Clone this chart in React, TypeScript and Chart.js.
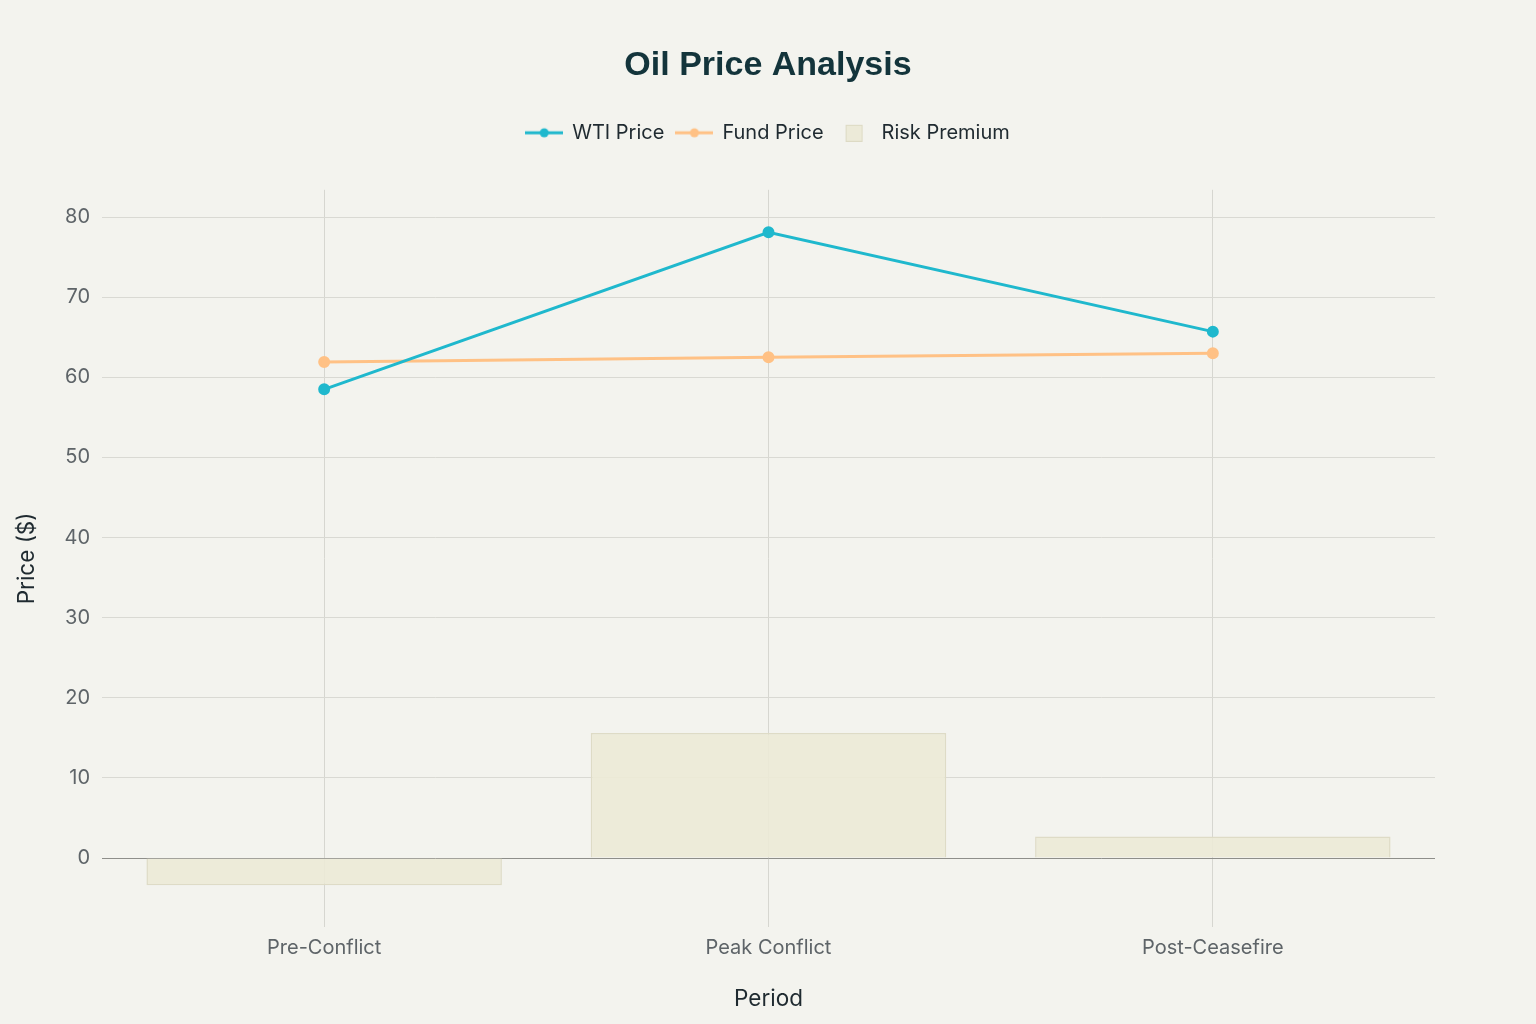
import { Chart, registerables } from "chart.js";
import { useEffect, useRef } from "react";

Chart.register(...registerables);

const periods = ["Pre-Conflict", "Peak Conflict", "Post-Ceasefire"];
const wtiPrice = [58.5, 78.1, 65.7];
const fundPrice = [61.9, 62.5, 63.0];
const riskPremium = [-3.4, 15.6, 2.7];
const yTicks = [0, 10, 20, 30, 40, 50, 60, 70, 80];

const TITLE_FONT = "'Liberation Sans', Arial, sans-serif";
const FONT = "Inter, 'Liberation Sans', sans-serif";

function lineIcon(color: string): HTMLCanvasElement {
  const c = document.createElement("canvas");
  c.width = 38;
  c.height = 12;
  const ctx = c.getContext("2d")!;
  ctx.strokeStyle = color;
  ctx.lineWidth = 3;
  ctx.beginPath();
  ctx.moveTo(0, 6);
  ctx.lineTo(38, 6);
  ctx.stroke();
  ctx.fillStyle = color;
  ctx.beginPath();
  ctx.arc(19, 6, 4.5, 0, Math.PI * 2);
  ctx.fill();
  return c;
}

function boxIcon(): HTMLCanvasElement {
  const c = document.createElement("canvas");
  c.width = 38;
  c.height = 18;
  const ctx = c.getContext("2d")!;
  ctx.fillStyle = "#ecead8";
  ctx.fillRect(11.5, 1.5, 16, 16);
  ctx.strokeStyle = "#dddac4";
  ctx.lineWidth = 1;
  ctx.strokeRect(11.5, 1.5, 16, 16);
  return c;
}

function OilChart(): JSX.Element {
  const canvasRef = useRef<HTMLCanvasElement | null>(null);

  useEffect(() => {
    const canvas = canvasRef.current;
    if (!canvas) return;
    const icons = [lineIcon("#1fb8cd"), lineIcon("#ffc185"), boxIcon()];

    const chart = new Chart(canvas, {
      type: "bar",
      data: {
        labels: periods,
        datasets: [
          {
            type: "line",
            label: "WTI Price",
            data: wtiPrice,
            borderColor: "#1fb8cd",
            backgroundColor: "#1fb8cd",
            borderWidth: 3,
            pointRadius: 4.5,
            order: 1,
          },
          {
            type: "line",
            label: "Fund Price",
            data: fundPrice,
            borderColor: "#ffc185",
            backgroundColor: "#ffc185",
            borderWidth: 3,
            pointRadius: 4.5,
            order: 1,
          },
          {
            type: "bar",
            label: "Risk Premium",
            data: riskPremium,
            backgroundColor: "rgba(236,234,214,0.9)",
            borderColor: "#dedbc6",
            borderWidth: 1.5,
            categoryPercentage: 1,
            barPercentage: 0.8,
            order: 2,
          },
        ],
      },
      options: {
        responsive: false,
        animation: false,
        layout: { padding: { left: 0, right: 0, top: 0, bottom: 11 } },
        plugins: {
          title: {
            display: true,
            text: "Oil Price Analysis",
            color: "#13343b",
            font: { family: TITLE_FONT, size: 34, weight: "bold" },
            padding: { top: 45, bottom: 25 },
          },
          legend: {
            labels: {
              color: "#1f2a30",
              font: { family: FONT, size: 20 },
              usePointStyle: true,
              pointStyleWidth: 36,
              padding: 12,
              generateLabels: (ch) =>
                ch.data.datasets.map((ds, i) => ({
                  text: ds.label as string,
                  datasetIndex: i,
                  pointStyle: icons[i],
                  fillStyle: "transparent",
                  strokeStyle: "transparent",
                  lineWidth: 0,
                  fontColor: "#1f2a30",
                  hidden: false,
                })),
            },
          },
          tooltip: { enabled: false },
        },
        scales: {
          x: {
            type: "category",
            offset: true,
            grid: { offset: false, color: "#d6d6d0", drawTicks: false },
            border: { display: false },
            ticks: {
              color: "#5e6468",
              font: { family: FONT, size: 20 },
              padding: 9,
            },
            title: {
              display: true,
              text: "Period",
              color: "#1f2a30",
              font: { family: FONT, size: 22.5 },
              padding: { top: 17, bottom: 0 },
            },
          },
          y: {
            min: -8.6,
            max: 83.4,
            afterBuildTicks: (axis) => {
              axis.ticks = yTicks.map((v) => ({ value: v }));
            },
            afterFit: (axis) => {
              axis.width = 102;
            },
            grid: {
              color: (c) => (c.tick && c.tick.value === 0 ? "#8e8e8a" : "#d9d9d3"),
              drawTicks: false,
            },
            border: { display: false },
            ticks: {
              color: "#5e6468",
              font: { family: FONT, size: 20 },
              padding: 12,
            },
            title: {
              display: true,
              text: "Price ($)",
              color: "#1f2a30",
              font: { family: FONT, size: 22.5 },
              padding: { top: 14, bottom: 0 },
            },
          },
          y2: {
            position: "right",
            display: true,
            grid: { display: false },
            border: { display: false },
            ticks: { display: false },
            afterFit: (axis) => {
              axis.width = 101;
            },
          },
        },
      },
      plugins: [
        {
          id: "bg",
          beforeDraw: (ch) => {
            const ctx = ch.ctx;
            ctx.save();
            ctx.fillStyle = "#f3f3ee";
            ctx.fillRect(0, 0, ch.width, ch.height);
            ctx.restore();
          },
        },
        {
          id: "legendGap",
          afterInit: (ch: any) => {
            const legend = ch.legend;
            if (!legend) return;
            const fit = legend.fit;
            legend.fit = function () {
              fit.call(this);
              this.height = 79;
            };
          },
        },
      ],
    });
    return () => {
      chart.destroy();
    };
  }, []);

  return <canvas ref={canvasRef} width={1536} height={1024}></canvas>;
}

export default function App(): JSX.Element {
  useEffect(() => {
    document.body.style.margin = "0";
    document.body.style.background = "#f3f3ee";
  }, []);
  return (
    <div style={{ width: 1536, height: 1024 }}>
      <OilChart />
    </div>
  );
}
